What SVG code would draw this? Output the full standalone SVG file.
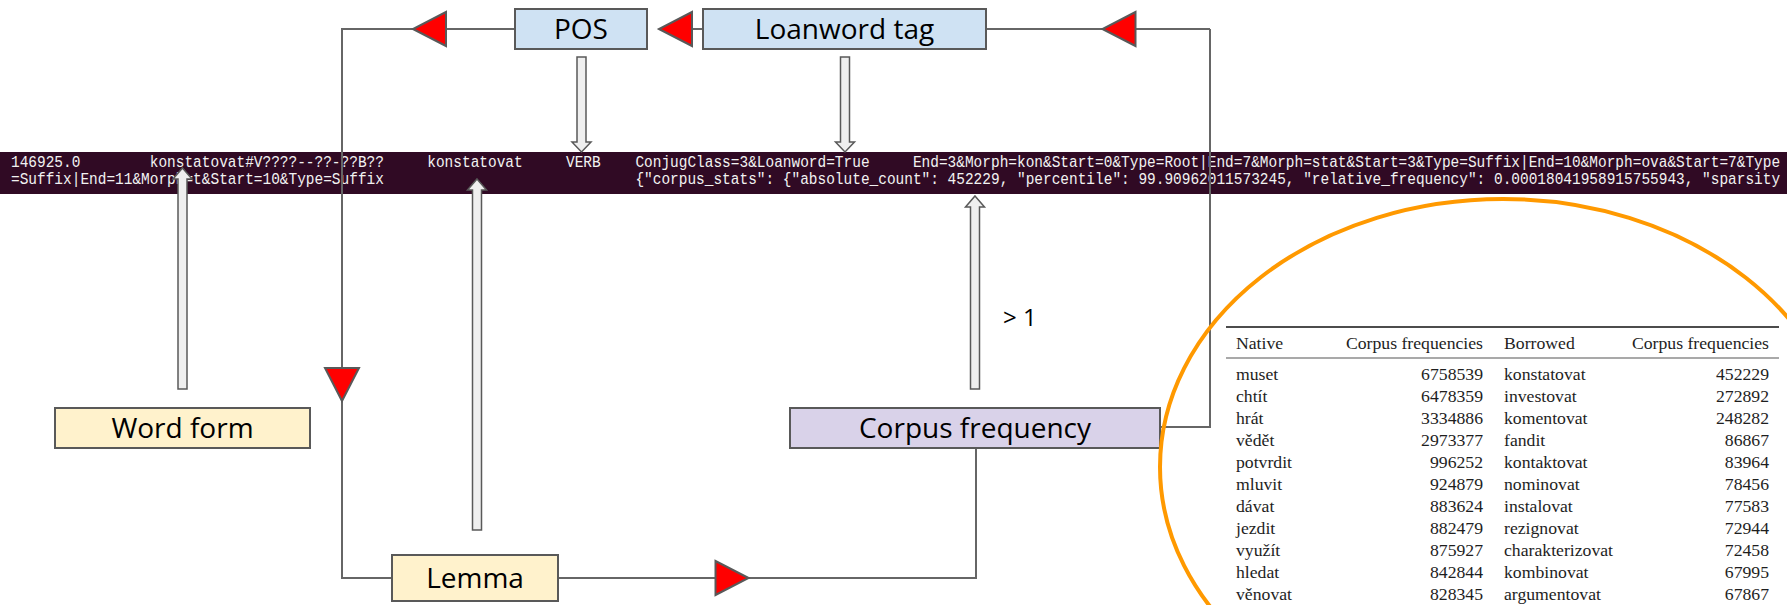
<svg xmlns="http://www.w3.org/2000/svg" width="1787" height="605" viewBox="0 0 1787 605">
<style>
.box{stroke:#595959;stroke-width:2}
.blue{fill:#cfe2f3}
.yellow{fill:#fff2cc}
.purple{fill:#d9d2e9}
.lbl{font-family:"Open Sans","Liberation Sans",sans-serif;font-size:28px;fill:#000;text-anchor:middle}
.conn{fill:none;stroke:#666;stroke-width:2}
.red{fill:#ff0000;stroke:#595959;stroke-width:2;stroke-linejoin:miter}
.hollow{fill:#efefef;stroke:#595959;stroke-width:1.5}
.term{font-family:"Liberation Mono","DejaVu Sans Mono",monospace;font-size:16.5px;fill:#f2f2f2}
.tbl{font-family:"Liberation Serif","Times New Roman",serif;font-size:17.7px;fill:#1e1e1e}
.num{text-anchor:end}
</style>
<defs>
<path id="tri" d="M16.5,0 L-16.5,-17 L-16.5,17 Z"/>
</defs>

<g id="terminal">
<rect x="0" y="152" width="1787" height="42" fill="#300a24"/>
<g transform="scale(0.8768,1)">
<text class="term" xml:space="preserve" x="12.55" y="167">146925.0        konstatovat#V????--??-??B??     konstatovat     VERB    ConjugClass=3&amp;Loanword=True     End=3&amp;Morph=kon&amp;Start=0&amp;Type=Root|End=7&amp;Morph=stat&amp;Start=3&amp;Type=Suffix|End=10&amp;Morph=ova&amp;Start=7&amp;Type</text>
<text class="term" xml:space="preserve" x="12.55" y="184">=Suffix|End=11&amp;Morph=t&amp;Start=10&amp;Type=Suffix                             {"corpus_stats": {"absolute_count": 452229, "percentile": 99.90962011573245, "relative_frequency": 0.00018041958915755943, "sparsity</text>
</g>
</g>

<g id="connectors">
<polyline class="conn" points="1210,29 1135,29"/>
<polyline class="conn" points="1103,29 986,29"/>
<polyline class="conn" points="703,29 692,29"/>
<polyline class="conn" points="515,29 446,29"/>
<polyline class="conn" points="413,29 342,29 342,578 392,578"/>
<polyline class="conn" points="558,578 976,578 976,448"/>
<polyline class="conn" points="1160,427 1210,427 1210,29"/>
<use href="#tri" class="red" transform="translate(429.5,29) rotate(180)"/>
<use href="#tri" class="red" transform="translate(675.5,29) rotate(180)"/>
<use href="#tri" class="red" transform="translate(1119,29) rotate(180)"/>
<use href="#tri" class="red" transform="translate(342,384.5) rotate(90)"/>
<use href="#tri" class="red" transform="translate(732,578)"/>
<path class="hollow" d="M577,57 H586 V142 H591 L581.5,152 L572,142 H577 Z"/>
<path class="hollow" d="M840.5,57 H849.5 V142 H854.5 L845,152 L835.5,142 H840.5 Z"/>
<path class="hollow" d="M182.5,168 L192,179 H187 V389 H178 V179 H173 Z"/>
<path class="hollow" d="M477,179 L486.5,190 H481.5 V530 H472.5 V190 H467.5 Z"/>
<path class="hollow" d="M975,196 L984.5,207 H979.5 V389 H970.5 V207 H965.5 Z"/>
<text x="1003" y="326" font-family="'Open Sans','Liberation Sans',sans-serif" font-size="24" fill="#000">&gt; 1</text>
</g>

<g id="node-pos">
<rect class="box blue" x="515" y="9" width="132" height="40"/>
<text class="lbl" x="581" y="39">POS</text>
</g>
<g id="node-loanword">
<rect class="box blue" x="703" y="9" width="283" height="40"/>
<text class="lbl" x="844.5" y="39">Loanword tag</text>
</g>
<g id="node-wordform">
<rect class="box yellow" x="55" y="408" width="255" height="40"/>
<text class="lbl" x="182.5" y="438">Word form</text>
</g>
<g id="node-lemma">
<rect class="box yellow" x="392" y="555" width="166" height="46"/>
<text class="lbl" x="475" y="588">Lemma</text>
</g>
<g id="node-corpusfreq">
<rect class="box purple" x="790" y="408" width="370" height="40"/>
<text class="lbl" x="975" y="438">Corpus frequency</text>
</g>

<g id="table">
<line x1="1226" y1="327" x2="1779" y2="327" stroke="#111" stroke-width="1.6"/>
<line x1="1226" y1="358" x2="1779" y2="358" stroke="#555" stroke-width="1.2"/>
<g class="tbl">
<text x="1236" y="349">Native</text>
<text class="num" x="1483" y="349">Corpus frequencies</text>
<text x="1504" y="349">Borrowed</text>
<text class="num" x="1769" y="349">Corpus frequencies</text>

<text x="1236" y="380">muset</text><text class="num" x="1483" y="380">6758539</text><text x="1504" y="380">konstatovat</text><text class="num" x="1769" y="380">452229</text>
<text x="1236" y="402">chtít</text><text class="num" x="1483" y="402">6478359</text><text x="1504" y="402">investovat</text><text class="num" x="1769" y="402">272892</text>
<text x="1236" y="424">hrát</text><text class="num" x="1483" y="424">3334886</text><text x="1504" y="424">komentovat</text><text class="num" x="1769" y="424">248282</text>
<text x="1236" y="446">vědět</text><text class="num" x="1483" y="446">2973377</text><text x="1504" y="446">fandit</text><text class="num" x="1769" y="446">86867</text>
<text x="1236" y="468">potvrdit</text><text class="num" x="1483" y="468">996252</text><text x="1504" y="468">kontaktovat</text><text class="num" x="1769" y="468">83964</text>
<text x="1236" y="490">mluvit</text><text class="num" x="1483" y="490">924879</text><text x="1504" y="490">nominovat</text><text class="num" x="1769" y="490">78456</text>
<text x="1236" y="512">dávat</text><text class="num" x="1483" y="512">883624</text><text x="1504" y="512">instalovat</text><text class="num" x="1769" y="512">77583</text>
<text x="1236" y="534">jezdit</text><text class="num" x="1483" y="534">882479</text><text x="1504" y="534">rezignovat</text><text class="num" x="1769" y="534">72944</text>
<text x="1236" y="556">využít</text><text class="num" x="1483" y="556">875927</text><text x="1504" y="556">charakterizovat</text><text class="num" x="1769" y="556">72458</text>
<text x="1236" y="578">hledat</text><text class="num" x="1483" y="578">842844</text><text x="1504" y="578">kombinovat</text><text class="num" x="1769" y="578">67995</text>
<text x="1236" y="600">věnovat</text><text class="num" x="1483" y="600">828345</text><text x="1504" y="600">argumentovat</text><text class="num" x="1769" y="600">67867</text>
</g>
</g>

<g id="highlight">
<ellipse cx="1503" cy="467" rx="343" ry="268" fill="none" stroke="#ff9900" stroke-width="4"/>
</g>
</svg>
